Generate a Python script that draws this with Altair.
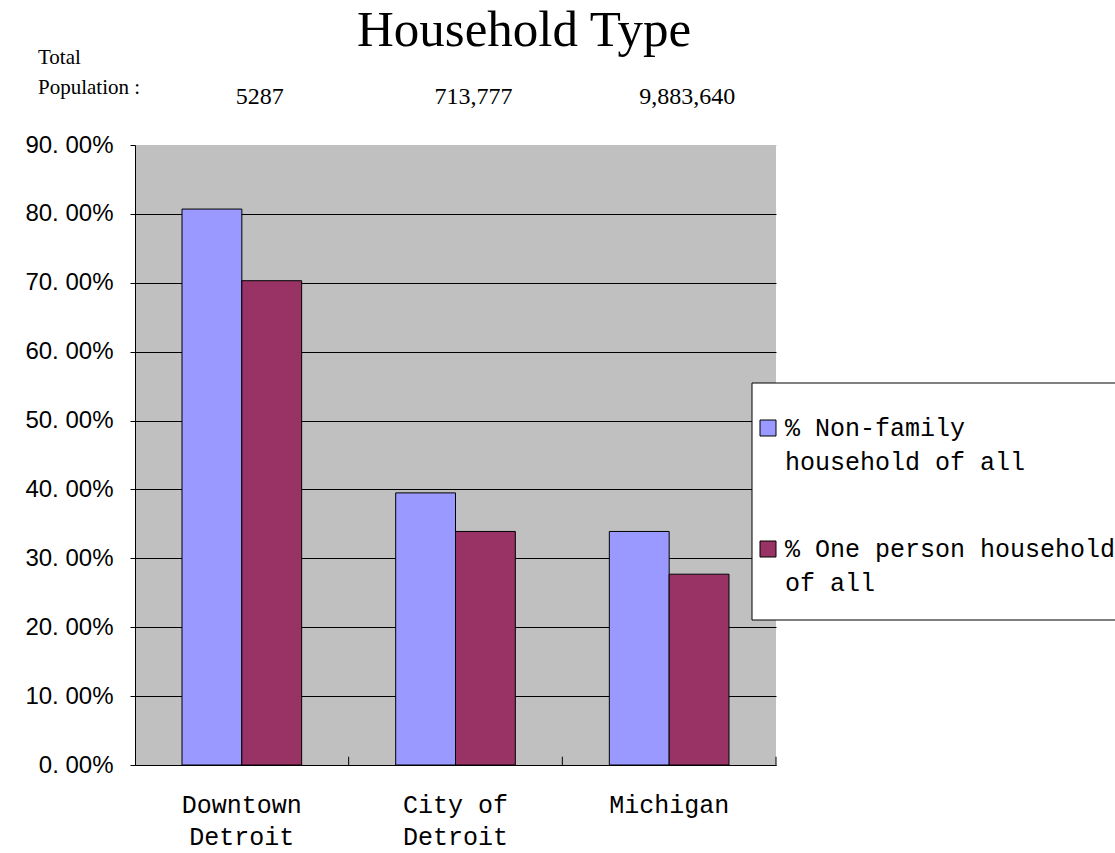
import altair as alt
import pandas as pd

regions = ["Downtown Detroit", "City of Detroit", "Michigan"]
series = ["% Non-family household of all", "% One person household of all"]
non_family = [0.807, 0.395, 0.339]
one_person = [0.703, 0.339, 0.277]
populations = ["5287", "713,777", "9,883,640"]
legend_lines = [["% Non-family", "household of all"], ["% One person household", "of all"]]
boundaries = [1, 2, 3]
colors = ["#9999FF", "#993366"]

rows = []
for r, a, b in zip(regions, non_family, one_person):
    rows.append({"Region": r, "Series": series[0], "Value": a})
    rows.append({"Region": r, "Series": series[1], "Value": b})
df = pd.DataFrame(rows)
pop_df = pd.DataFrame({"Region": regions, "Pop": populations})
tick_df = pd.DataFrame({"b": boundaries, "y0": [0.0] * 3, "y1": [0.012] * 3})

mono = "Liberation Mono"
serif = "Liberation Serif"
sans = "Liberation Sans"

xscale = alt.Scale(domain=regions, paddingInner=0.44, paddingOuter=0.22)
cscale = alt.Scale(domain=series, range=colors)

bars = alt.Chart(df).mark_bar(stroke="black", strokeWidth=1).encode(
    x=alt.X("Region:N", scale=xscale, sort=regions, title=None,
            axis=alt.Axis(labelAngle=0, labelFont=mono, labelFontSize=25, labelColor="black",
                          labelExpr="datum.label == 'Downtown Detroit' ? ['Downtown','Detroit'] : datum.label == 'City of Detroit' ? ['City of','Detroit'] : datum.label",
                          labelLineHeight=32, labelPadding=27, ticks=False,
                          domainColor="black", domainWidth=1)),
    xOffset=alt.XOffset("Series:N", sort=series),
    y=alt.Y("Value:Q", scale=alt.Scale(domain=[0, 0.9], nice=False), title=None,
            axis=alt.Axis(values=[0, 0.1, 0.2, 0.3, 0.4, 0.5, 0.6, 0.7, 0.8, 0.9],
                          labelExpr="replace(format(datum.value, '.2%'), '.', '. ')",
                          labelFont=sans, labelFontSize=24, labelColor="black",
                          labelPadding=17, tickSize=5, tickColor="black",
                          domainColor="black", domainWidth=1,
                          grid=True, gridWidth=1,
                          gridColor={"condition": {"test": "datum.value >= 0.89", "value": "#C0C0C0"}, "value": "black"})),
    color=alt.Color("Series:N", sort=series, scale=cscale, legend=None),
)

pop_text = alt.Chart(pop_df).mark_text(font=serif, fontSize=24, color="black", dx=18).encode(
    x=alt.X("Region:N", scale=xscale, sort=regions, axis=None),
    y=alt.value(-48),
    text="Pop:N",
)

ticks = alt.Chart(tick_df).mark_rule(color="black", strokeWidth=1).encode(
    x=alt.X("b:Q", scale=alt.Scale(domain=[0, 3], nice=False), axis=None),
    y=alt.Y("y0:Q", scale=alt.Scale(domain=[0, 0.9], nice=False)),
    y2="y1:Q",
)

title_df = pd.DataFrame({"t": ["Household Type"]})
title_text = alt.Chart(title_df).mark_text(font=serif, fontSize=51, color="black", baseline="alphabetic").encode(
    x=alt.value(389), y=alt.value(-99), text="t:N")

tp_df = pd.DataFrame({"t": [["Total", "Population :"]]})
tp_text = alt.Chart(tp_df).mark_text(font=serif, fontSize=21, color="black", align="left",
                                     baseline="middle", lineHeight=30).encode(
    x=alt.value(-97), y=alt.value(-87), text="t")

# legend (drawn as marks so the label line spacing can match)
box_df = pd.DataFrame({"k": [0]})
legend_box = alt.Chart(box_df).mark_rect(fill="white", stroke="black", strokeWidth=1).encode(
    x=alt.value(617), x2=alt.value(1000), y=alt.value(238), y2=alt.value(475))

legend_layers = [legend_box]
entry_y = [283, 404]
for s, lines, yy in zip(series, legend_lines, entry_y):
    ldf = pd.DataFrame({"Series": [s], "Label": [lines]})
    sym = alt.Chart(ldf).mark_rect(stroke="black", strokeWidth=1).encode(
        x=alt.value(625), x2=alt.value(641), y=alt.value(yy - 8), y2=alt.value(yy + 8),
        color=alt.Color("Series:N", sort=series, scale=cscale, legend=None))
    txt = alt.Chart(ldf).mark_text(font=mono, fontSize=25, color="black", align="left",
                                   baseline="middle", lineHeight=34).encode(
        x=alt.value(650), y=alt.value(yy), text="Label")
    legend_layers += [sym, txt]

chart = alt.layer(bars, ticks, pop_text, title_text, tp_text, *legend_layers).resolve_scale(x="independent").properties(
    width=641, height=620,
    background="white",
    autosize=alt.AutoSizeParams(type="none"),
    padding={"left": 135, "top": 145, "right": 339, "bottom": 88},
).configure_view(fill="#C0C0C0", stroke=None)

chart.save("out.html", embed_options={"renderer": "svg", "actions": False})
